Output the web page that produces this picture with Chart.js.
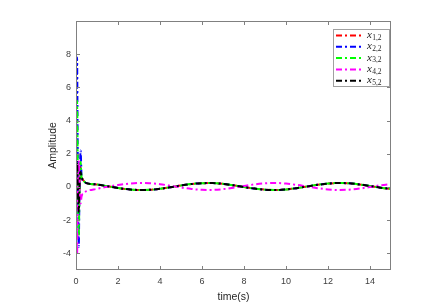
<!DOCTYPE html>
<html><head><meta charset="utf-8">
<script src="https://cdn.jsdelivr.net/npm/chart.js@4/dist/chart.umd.min.js"></script>
<style>html,body{margin:0;padding:0;background:#fff}#wrap{width:446px;height:307px}</style>
</head><body><div id="wrap"><canvas id="c" width="446" height="307"></canvas></div>
<script>
// time samples (s)
const tTransient = [0, 0.025, 0.05, 0.08, 0.11, 0.13, 0.16, 0.19, 0.22, 0.26, 0.3, 0.35, 0.4];
const tSteady = [0.5,1,1.5,2,2.5,3,3.5,4,4.5,5,5.5,6,6.5,7,7.5,8,8.5,9,9.5,10,10.5,11,11.5,12,12.5,13,13.5,14,14.5,15];
const labels = ["x","x","x","x","x"];
const subs = ["1,2","2,2","3,2","4,2","5,2"];
// transient values
const x1Transient = [0, 0.8, 1.6, 0.5, -0.8, -1.3, -0.4, 0.9, 1.2, 0.5, 0.45, 0.4, 0.32];
const x2Transient = [0, 3.5, 7.8, 2.5, -2.0, -3.6, -1.0, 1.2, 2.2, 0.8, 0.45, 0.4, 0.32];
const x3Transient = [0, 2.5, 5.2, 1.8, -1.5, -3.0, -0.8, 1.0, 1.5, 0.6, 0.45, 0.4, 0.32];
const x4Transient = [0, -2.0, -4.1, -1.0, 1.0, 1.6, 0.5, -0.8, -1.0, -0.6, -0.45, -0.4, -0.33];
const x5Transient = [0, 0.7, 1.5, 0.2, -1.0, -1.5, -0.3, 0.8, 0.9, 0.6, 0.5, 0.42, 0.33];
// steady oscillation
const x1Steady = [0.23,0.15,0.045,-0.06,-0.14,-0.18,-0.17,-0.11,-0.015,0.09,0.18,0.23,0.235,0.19,0.10,0.0,-0.095,-0.16,-0.18,-0.145,-0.07,0.03,0.13,0.205,0.24,0.22,0.155,0.06,-0.045,-0.12];
const x2Steady = [0.23,0.15,0.045,-0.06,-0.14,-0.18,-0.17,-0.11,-0.015,0.09,0.18,0.23,0.235,0.19,0.10,0.0,-0.095,-0.16,-0.18,-0.145,-0.07,0.03,0.13,0.205,0.24,0.22,0.155,0.06,-0.045,-0.12];
const x3Steady = [0.23,0.15,0.045,-0.06,-0.14,-0.18,-0.17,-0.11,-0.015,0.09,0.18,0.23,0.235,0.19,0.10,0.0,-0.095,-0.16,-0.18,-0.145,-0.07,0.03,0.13,0.205,0.24,0.22,0.155,0.06,-0.045,-0.12];
const x4Steady = [-0.25,-0.11,0.02,0.12,0.2,0.24,0.23,0.17,0.075,-0.03,-0.12,-0.17,-0.175,-0.13,-0.045,0.06,0.155,0.22,0.24,0.205,0.13,0.03,-0.07,-0.145,-0.18,-0.16,-0.095,0.0,0.105,0.18];
const x5Steady = [0.23,0.15,0.045,-0.06,-0.14,-0.18,-0.17,-0.11,-0.015,0.09,0.18,0.23,0.235,0.19,0.10,0.0,-0.095,-0.16,-0.18,-0.145,-0.07,0.03,0.13,0.205,0.24,0.22,0.155,0.06,-0.045,-0.12];
const xTicks = [0,2,4,6,8,10,12,14];
const yTicks = [-4,-2,0,2,4,6,8];
const colors = ["#ff0000","#0000ff","#00ff00","#ff00ff","#000000"];

const times = tTransient.concat(tSteady);
const series = [x1Transient.concat(x1Steady), x2Transient.concat(x2Steady), x3Transient.concat(x3Steady), x4Transient.concat(x4Steady), x5Transient.concat(x5Steady)];

const datasets = series.map((vals, i) => ({
  label: labels[i] + subs[i],
  data: vals.map((v, k) => ({x: times[k], y: v})),
  borderColor: colors[i],
  backgroundColor: colors[i],
  borderWidth: 2,
  borderDash: [6, 3, 2, 3],
  pointRadius: 0,
  cubicInterpolationMode: 'monotone',
  fill: false,
  order: 5 - i
}));

const frame = {
  id: 'frame',
  afterDatasetsDraw(chart) {
    const {ctx, chartArea: a, scales: {x, y}} = chart;
    ctx.save();
    ctx.strokeStyle = '#808080';
    ctx.lineWidth = 1;
    ctx.strokeRect(Math.round(a.left) + 0.5, Math.round(a.top) + 0.5, Math.round(a.right - a.left) - 1, Math.round(a.bottom - a.top) - 1);
    ctx.beginPath();
    xTicks.forEach(v => {
      const px = Math.round(x.getPixelForValue(v)) + 0.5;
      ctx.moveTo(px, a.bottom); ctx.lineTo(px, a.bottom - 4);
      ctx.moveTo(px, a.top); ctx.lineTo(px, a.top + 4);
    });
    yTicks.forEach(v => {
      const py = Math.round(y.getPixelForValue(v)) + 0.5;
      ctx.moveTo(a.left, py); ctx.lineTo(a.left + 4, py);
      ctx.moveTo(a.right, py); ctx.lineTo(a.right - 4, py);
    });
    ctx.stroke();
    // legend
    const lx = 333, ly = 29, lw = 56, lh = 57;
    ctx.fillStyle = '#ffffff';
    ctx.fillRect(lx, ly, lw, lh);
    ctx.strokeStyle = '#a0a0a0';
    ctx.strokeRect(lx + 0.5, ly + 0.5, lw, lh);
    chart.data.datasets.forEach((ds, i) => {
      const cy = ly + 6.5 + i * 11.3;
      ctx.strokeStyle = ds.borderColor;
      ctx.lineWidth = 2;
      ctx.setLineDash([6, 3, 2, 3]);
      ctx.beginPath(); ctx.moveTo(lx + 3, cy); ctx.lineTo(lx + 31, cy); ctx.stroke();
      ctx.setLineDash([]);
      ctx.fillStyle = '#262626';
      ctx.textBaseline = 'alphabetic';
      ctx.textAlign = 'left';
      ctx.font = 'italic 11px "Liberation Serif"';
      ctx.fillText(labels[i], lx + 34, cy + 2.5);
      const w = ctx.measureText(labels[i]).width;
      ctx.font = '7.5px "Liberation Serif"';
      ctx.fillText(subs[i], lx + 34 + w + 0.3, cy + 4.2);
    });
    ctx.restore();
  }
};

new Chart(document.getElementById('c'), {
  type: 'line',
  data: {datasets},
  plugins: [frame],
  options: {
    responsive: false,
    animation: false,
    events: [],
    layout: {padding: {left: 0, top: 21, right: 55, bottom: 0}},
    plugins: {legend: {display: false}, tooltip: {enabled: false}},
    scales: {
      x: {
        type: 'linear', min: 0, max: 15,
        afterBuildTicks: s => { s.ticks = xTicks.map(v => ({value: v})); },
        afterFit: s => { s.height = 37; },
        grid: {display: false, drawTicks: false},
        border: {display: false},
        ticks: {padding: 6, color: '#404040', font: {family: 'Liberation Sans', size: 9}, maxRotation: 0, autoSkip: false},
        title: {display: true, text: 'time(s)', color: '#262626', font: {family: 'Liberation Sans', size: 10.5}, padding: {top: 0, bottom: 3.5}}
      },
      y: {
        type: 'linear', min: -5, max: 10,
        afterBuildTicks: s => { s.ticks = yTicks.map(v => ({value: v})); },
        afterFit: s => { s.width = 76; },
        grid: {display: false, drawTicks: false},
        border: {display: false},
        ticks: {padding: 5, color: '#404040', font: {family: 'Liberation Sans', size: 9}, autoSkip: false},
        title: {display: true, text: 'Amplitude', color: '#262626', font: {family: 'Liberation Sans', size: 10.5}, padding: {top: 47, bottom: 0}}
      }
    }
  }
});
</script></body></html>
